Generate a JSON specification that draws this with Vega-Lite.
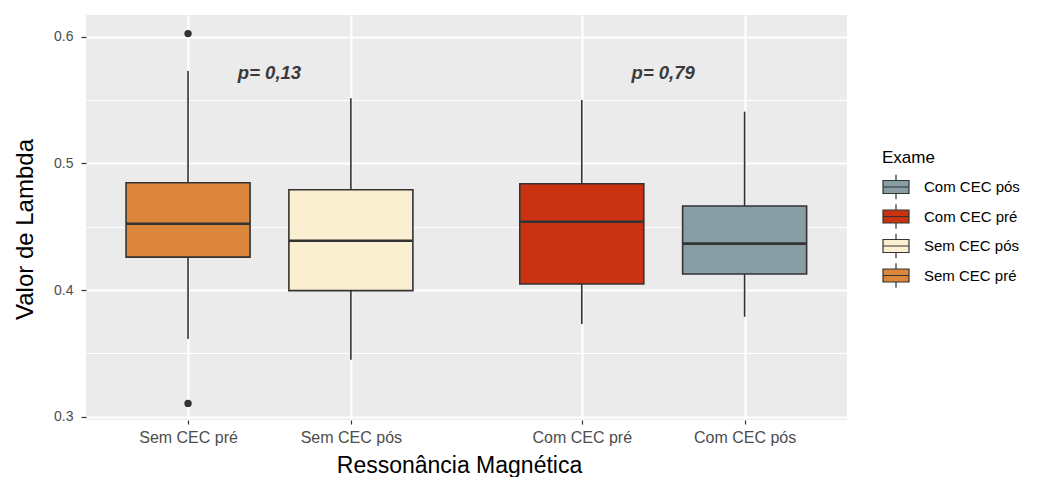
{
  "$schema": "https://vega.github.io/schema/vega-lite/v6.json",
  "width": 761,
  "height": 405,
  "autosize": "none",
  "padding": {"left": 86, "top": 15, "right": 190, "bottom": 57},
  "background": "white",
  "config": {
    "view": {"fill": "#ebebeb", "stroke": null},
    "font": "Liberation Sans",
    "axis": {"domain": false, "gridColor": "white", "tickColor": "#333333", "labelColor": "#4d4d4d", "labelFont": "Liberation Sans", "titleFont": "Liberation Sans", "titleColor": "black", "titleFontWeight": "normal"}
  },
  "datasets": {
    "caixas": [
      {"Exame": "Sem CEC pré", "min": 0.3613, "q1": 0.4260, "mediana": 0.4523, "q3": 0.4847, "max": 0.5729},
      {"Exame": "Sem CEC pós", "min": 0.3450, "q1": 0.3995, "mediana": 0.4389, "q3": 0.4792, "max": 0.5513},
      {"Exame": "Com CEC pré", "min": 0.3732, "q1": 0.4047, "mediana": 0.4539, "q3": 0.4839, "max": 0.5500},
      {"Exame": "Com CEC pós", "min": 0.3789, "q1": 0.4126, "mediana": 0.4366, "q3": 0.4663, "max": 0.5408}
    ],
    "atipicos": [
      {"Exame": "Sem CEC pré", "valor": 0.6024},
      {"Exame": "Sem CEC pré", "valor": 0.3105}
    ],
    "pvalores": [
      {"Grupo": "Sem CEC", "texto": "p= 0,13"},
      {"Grupo": "Com CEC", "texto": "p= 0,79"}
    ]
  },
  "layer": [
    {
      "data": {"name": "caixas"},
      "transform": [{"calculate": "datum.Exame == 'Sem CEC pré' ? 1 : datum.Exame == 'Sem CEC pós' ? 2 : datum.Exame == 'Com CEC pré' ? 3.418 : 4.418", "as": "pos"}],
      "mark": {"type": "rule", "color": "#333333", "strokeWidth": 1.6},
      "encoding": {
        "x": {"field": "pos", "type": "quantitative", "title": "Ressonância Magnética",
          "scale": {"domain": [0.404, 5.016], "nice": false, "zero": false},
          "axis": {"values": [1, 2, 3.418, 4.418],
            "labelExpr": "datum.value == 1 ? 'Sem CEC pré' : datum.value == 2 ? 'Sem CEC pós' : datum.value < 4 ? 'Com CEC pré' : 'Com CEC pós'",
            "grid": true, "gridWidth": 2, "tickSize": 4, "tickWidth": 1.2, "labelPadding": 5, "labelFontSize": 16,
            "titleFontSize": 23, "titleX": 373, "titleY": 52, "titleBaseline": "alphabetic", "titleAnchor": null, "titleAlign": "center"}},
        "y": {"field": "min", "type": "quantitative", "title": "Valor de Lambda",
          "scale": {"domain": [0.2974, 0.6171], "nice": false, "zero": false},
          "axis": {"values": [0.3, 0.35, 0.4, 0.45, 0.5, 0.55, 0.6],
            "labelExpr": "round(datum.value * 100) % 10 == 0 ? format(datum.value, '.1f') : ''",
            "gridWidth": {"condition": {"test": "round(datum.value * 100) % 10 != 0", "value": 1}, "value": 2},
            "tickOpacity": {"condition": {"test": "round(datum.value * 100) % 10 != 0", "value": 0}, "value": 1},
            "tickSize": 5, "tickWidth": 1.2, "labelPadding": 8, "labelFontSize": 14,
            "titleFontSize": 24, "titleX": -54, "titleY": 214, "titleAngle": -90, "titleBaseline": "alphabetic", "titleAlign": "center", "titleAnchor": null}},
        "y2": {"field": "max"}
      }
    },
    {
      "data": {"name": "caixas"},
      "transform": [{"calculate": "datum.Exame == 'Sem CEC pré' ? 1 : datum.Exame == 'Sem CEC pós' ? 2 : datum.Exame == 'Com CEC pré' ? 3.418 : 4.418", "as": "pos"}],
      "mark": {"type": "bar", "size": 124, "stroke": "#333333", "strokeWidth": 1.6},
      "encoding": {
        "x": {"field": "pos", "type": "quantitative", "title": "Ressonância Magnética"},
        "y": {"field": "q1", "type": "quantitative", "title": "Valor de Lambda"},
        "y2": {"field": "q3"},
        "color": {"field": "Exame", "type": "nominal",
          "scale": {"domain": ["Com CEC pós", "Com CEC pré", "Sem CEC pós", "Sem CEC pré"], "range": ["#899DA4", "#C93312", "#FAEFD1", "#DC863B"]},
          "legend": {"title": "Exame", "orient": "none", "legendX": 796, "legendY": 135,
            "titleFontSize": 17, "titleFont": "Liberation Sans", "titleFontWeight": "normal", "titleColor": "black", "titlePadding": 6,
            "labelFontSize": 15, "labelFont": "Liberation Sans", "labelColor": "black", "labelOffset": 14,
            "symbolType": "M-1,-0.5H1V0.5H-1Z M-1,0H1 M0,-0.5V-0.95 M0,0.5V0.95",
            "symbolSize": 676, "symbolStrokeColor": "#333333", "symbolStrokeWidth": 1.2, "symbolOpacity": 1,
            "rowPadding": -0.5, "padding": 0}}
      }
    },
    {
      "data": {"name": "caixas"},
      "transform": [{"calculate": "datum.Exame == 'Sem CEC pré' ? 1 : datum.Exame == 'Sem CEC pós' ? 2 : datum.Exame == 'Com CEC pré' ? 3.418 : 4.418", "as": "pos"}],
      "mark": {"type": "tick", "orient": "horizontal", "size": 124, "thickness": 2.6, "color": "#333333", "opacity": 1},
      "encoding": {
        "x": {"field": "pos", "type": "quantitative", "title": "Ressonância Magnética"},
        "y": {"field": "mediana", "type": "quantitative", "title": "Valor de Lambda"}
      }
    },
    {
      "data": {"name": "atipicos"},
      "transform": [{"calculate": "datum.Exame == 'Sem CEC pré' ? 1 : datum.Exame == 'Sem CEC pós' ? 2 : datum.Exame == 'Com CEC pré' ? 3.418 : 4.418", "as": "pos"}],
      "mark": {"type": "point", "filled": true, "size": 55, "color": "#333333", "opacity": 1},
      "encoding": {
        "x": {"field": "pos", "type": "quantitative", "title": "Ressonância Magnética"},
        "y": {"field": "valor", "type": "quantitative", "title": "Valor de Lambda"}
      }
    },
    {
      "data": {"name": "pvalores"},
      "transform": [{"calculate": "datum.Grupo == 'Sem CEC' ? 1.5 : 3.918", "as": "pos"}],
      "mark": {"type": "text", "font": "Liberation Sans", "fontSize": 18.5, "fontWeight": "bold", "fontStyle": "italic", "color": "#3a3a3a", "align": "center", "baseline": "middle"},
      "encoding": {
        "x": {"field": "pos", "type": "quantitative", "title": "Ressonância Magnética"},
        "y": {"datum": 0.5717, "type": "quantitative"},
        "text": {"field": "texto"}
      }
    }
  ]
}
